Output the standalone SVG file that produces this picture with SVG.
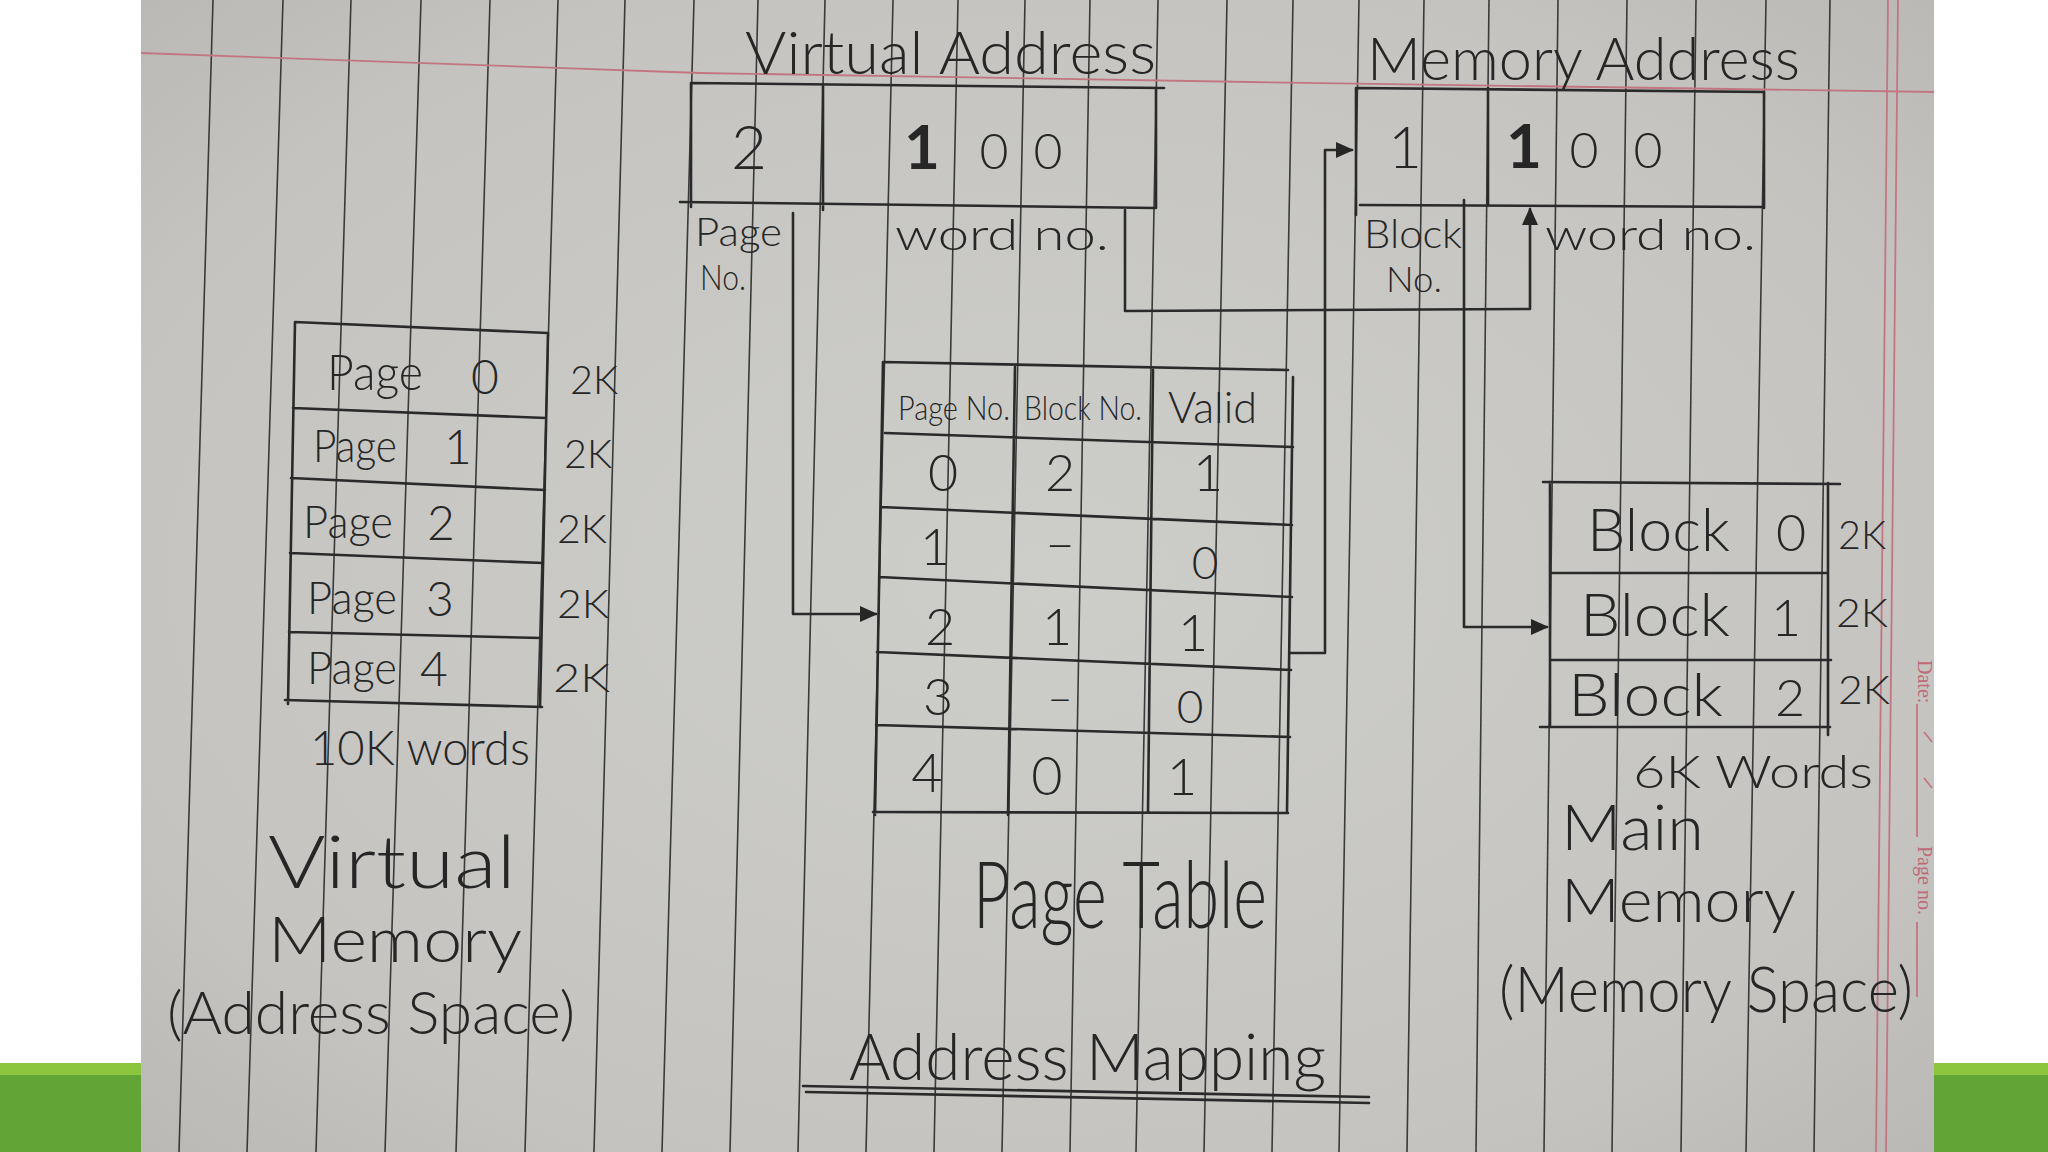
<svg xmlns="http://www.w3.org/2000/svg" width="2048" height="1152" viewBox="0 0 2048 1152">
<defs>
<radialGradient id="paper" cx="0.5" cy="0.5" r="0.75">
<stop offset="0" stop-color="#cdcdca"/>
<stop offset="0.7" stop-color="#c5c4c1"/>
<stop offset="1" stop-color="#b7b6b3"/>
</radialGradient>
<clipPath id="pg"><rect x="141" y="0" width="1793" height="1152"/></clipPath>
<marker id="ah" viewBox="0 0 10 10" refX="9" refY="5" markerWidth="7" markerHeight="7" orient="auto" markerUnits="strokeWidth">
<path d="M0,0.5 L10,5 L0,9.5 Z" fill="#262626"/>
</marker>
<style>
.rule{stroke:#3a3a3a;stroke-width:1.6;fill:none}
.red{stroke:#c27682;stroke-width:1.8;fill:none}
.ink{stroke:#2a2a2a;stroke-width:2.6;fill:none;stroke-linecap:round;stroke-linejoin:round}
.hw{font-family:Lato,"Open Sans","DejaVu Sans",sans-serif;font-weight:300;fill:#262626}
.mid{text-anchor:middle}
.bold{font-weight:700}
.pr{font-family:"Liberation Serif",serif;fill:#c06a78;font-size:20px}
</style>
</defs>
<rect x="0" y="0" width="2048" height="1152" fill="#ffffff"/>
<rect x="0" y="1063" width="141" height="12" fill="#8cc63f"/>
<rect x="0" y="1075" width="141" height="77" fill="#63a437"/>
<rect x="1934" y="1063" width="114" height="12" fill="#8cc63f"/>
<rect x="1934" y="1075" width="114" height="77" fill="#63a437"/>
<g id="paper-sheet" clip-path="url(#pg)">
<rect x="141" y="0" width="1793" height="1152" fill="url(#paper)"/>
<g id="ruling">
<line class="rule" x1="213" y1="0" x2="179" y2="1152"/>
<line class="rule" x1="283" y1="0" x2="247" y2="1152"/>
<line class="rule" x1="351" y1="0" x2="316" y2="1152"/>
<line class="rule" x1="421" y1="0" x2="385" y2="1152"/>
<line class="rule" x1="490" y1="0" x2="456" y2="1152"/>
<line class="rule" x1="558" y1="0" x2="525" y2="1152"/>
<line class="rule" x1="625" y1="0" x2="594" y2="1152"/>
<line class="rule" x1="694" y1="0" x2="662" y2="1152"/>
<line class="rule" x1="758" y1="0" x2="730" y2="1152"/>
<line class="rule" x1="825" y1="0" x2="798" y2="1152"/>
<line class="rule" x1="893" y1="0" x2="866" y2="1152"/>
<line class="rule" x1="958" y1="0" x2="934" y2="1152"/>
<line class="rule" x1="1025" y1="0" x2="1002" y2="1152"/>
<line class="rule" x1="1090" y1="0" x2="1070" y2="1152"/>
<line class="rule" x1="1158" y1="0" x2="1136" y2="1152"/>
<line class="rule" x1="1227" y1="0" x2="1204" y2="1152"/>
<line class="rule" x1="1293" y1="0" x2="1272" y2="1152"/>
<line class="rule" x1="1359" y1="0" x2="1339" y2="1152"/>
<line class="rule" x1="1424" y1="0" x2="1407" y2="1152"/>
<line class="rule" x1="1489" y1="0" x2="1476" y2="1152"/>
<line class="rule" x1="1558" y1="0" x2="1544" y2="1152"/>
<line class="rule" x1="1627" y1="0" x2="1612" y2="1152"/>
<line class="rule" x1="1696" y1="0" x2="1681" y2="1152"/>
<line class="rule" x1="1766" y1="0" x2="1746" y2="1152"/>
<line class="rule" x1="1830" y1="0" x2="1814" y2="1152"/>
<path class="red" d="M141,53 L700,73 L1250,82 L1934,92"/>
<line class="red" x1="1888" y1="0" x2="1876" y2="1152"/>
<line class="red" x1="1898" y1="0" x2="1886" y2="1152"/>
<text class="pr" transform="translate(1918,660) rotate(90)">Date:</text>
<line class="red" x1="1917" y1="704" x2="1917" y2="837"/>
<line class="red" x1="1924" y1="732" x2="1932" y2="742"/>
<line class="red" x1="1924" y1="778" x2="1932" y2="788"/>
<text class="pr" transform="translate(1918,846) rotate(90)">Page no.</text>
<line class="red" x1="1917" y1="922" x2="1917" y2="997"/>
</g>

<g id="virtual-address">
<text class="hw" x="745" y="74" font-size="60" textLength="411" lengthAdjust="spacingAndGlyphs">Virtual Address</text>
<path class="ink" d="M691,83 L1164,88 M691,83 L691,207 M680,202 L1156,208 M1156,88 L1156,208 M823,85 L823,210"/>
<text class="hw mid" x="749" y="169" font-size="62">2</text>
<text class="hw mid bold" x="922" y="169" font-size="62">1</text>
<text class="hw mid" x="994" y="169" font-size="50">0</text>
<text class="hw mid" x="1048" y="169" font-size="50">0</text>
<text class="hw" x="695" y="246" font-size="40" textLength="87" lengthAdjust="spacingAndGlyphs">Page</text>
<text class="hw" x="700" y="290" font-size="36" textLength="46" lengthAdjust="spacingAndGlyphs">No.</text>
<text class="hw" x="895" y="250" font-size="44" textLength="214" lengthAdjust="spacingAndGlyphs">word no.</text>
</g>

<g id="memory-address">
<text class="hw" x="1367" y="80" font-size="60" textLength="433" lengthAdjust="spacingAndGlyphs">Memory Address</text>
<path class="ink" d="M1356,88 L1764,92 M1356,88 L1356,215 M1360,205 L1764,207 M1764,92 L1764,208 M1488,88 L1488,206"/>
<text class="hw mid" x="1405" y="168" font-size="58">1</text>
<text class="hw mid bold" x="1524" y="168" font-size="62">1</text>
<text class="hw mid" x="1584" y="168" font-size="50">0</text>
<text class="hw mid" x="1648" y="168" font-size="50">0</text>
<text class="hw" x="1364" y="248" font-size="40" textLength="98" lengthAdjust="spacingAndGlyphs">Block</text>
<text class="hw" x="1386" y="292" font-size="36" textLength="56" lengthAdjust="spacingAndGlyphs">No.</text>
<text class="hw" x="1545" y="250" font-size="44" textLength="211" lengthAdjust="spacingAndGlyphs">word no.</text>
</g>

<g id="virtual-memory">
<path class="ink" d="M295,322 L548,333 M295,322 L288,704 M548,333 L540,707 M293,408 L546,418 M291,478 L545,490 M290,553 L543,563 M289,632 L541,638 M285,700 L542,707"/>
<text class="hw" x="327" y="390" font-size="50" textLength="96" lengthAdjust="spacingAndGlyphs">Page</text>
<text class="hw mid" x="485" y="394" font-size="48">0</text>
<text class="hw" x="313" y="462" font-size="46" textLength="84" lengthAdjust="spacingAndGlyphs">Page</text>
<text class="hw mid" x="458" y="464" font-size="48">1</text>
<text class="hw" x="303" y="538" font-size="46" textLength="90" lengthAdjust="spacingAndGlyphs">Page</text>
<text class="hw mid" x="441" y="540" font-size="48">2</text>
<text class="hw" x="307" y="614" font-size="46" textLength="90" lengthAdjust="spacingAndGlyphs">Page</text>
<text class="hw mid" x="440" y="616" font-size="48">3</text>
<text class="hw" x="307" y="684" font-size="46" textLength="90" lengthAdjust="spacingAndGlyphs">Page</text>
<text class="hw mid" x="434" y="686" font-size="48">4</text>
<text class="hw" x="570" y="394" font-size="40" textLength="48" lengthAdjust="spacingAndGlyphs">2K</text>
<text class="hw" x="564" y="468" font-size="40" textLength="48" lengthAdjust="spacingAndGlyphs">2K</text>
<text class="hw" x="557" y="543" font-size="40" textLength="50" lengthAdjust="spacingAndGlyphs">2K</text>
<text class="hw" x="557" y="618" font-size="40" textLength="52" lengthAdjust="spacingAndGlyphs">2K</text>
<text class="hw" x="553" y="692" font-size="40" textLength="57" lengthAdjust="spacingAndGlyphs">2K</text>
<text class="hw" x="310" y="765" font-size="48" textLength="220" lengthAdjust="spacingAndGlyphs">10K words</text>
<text class="hw" x="268" y="888" font-size="72" textLength="248" lengthAdjust="spacingAndGlyphs">Virtual</text>
<text class="hw" x="268" y="962" font-size="64" textLength="254" lengthAdjust="spacingAndGlyphs">Memory</text>
<text class="hw" x="167" y="1034" font-size="60" textLength="408" lengthAdjust="spacingAndGlyphs">(Address Space)</text>
</g>

<g id="page-table">
<path class="ink" d="M883,362 L1288,370 M883,362 L875,815 M1293,377 L1287,812 M885,433 L1293,447 M881,507 L1292,525 M879,577 L1292,597 M877,652 L1291,670 M876,725 L1290,737 M873,812 L1288,813 M1015,367 L1008,815 M1153,370 L1148,812"/>
<text class="hw" x="898" y="420" font-size="34" textLength="112" lengthAdjust="spacingAndGlyphs">Page No.</text>
<text class="hw" x="1024" y="420" font-size="34" textLength="118" lengthAdjust="spacingAndGlyphs">Block No.</text>
<text class="hw" x="1168" y="423" font-size="44" textLength="89" lengthAdjust="spacingAndGlyphs">Valid</text>
<text class="hw mid" x="943" y="491" font-size="52">0</text>
<text class="hw mid" x="1060" y="491" font-size="52">2</text>
<text class="hw mid" x="1208" y="491" font-size="52">1</text>
<text class="hw mid" x="935" y="565" font-size="52">1</text>
<text class="hw mid" x="1060" y="561" font-size="52">–</text>
<text class="hw mid" x="1205" y="579" font-size="46">0</text>
<text class="hw mid" x="940" y="645" font-size="52">2</text>
<text class="hw mid" x="1057" y="645" font-size="52">1</text>
<text class="hw mid" x="1193" y="651" font-size="52">1</text>
<text class="hw mid" x="938" y="715" font-size="52">3</text>
<text class="hw mid" x="1060" y="713" font-size="44">–</text>
<text class="hw mid" x="1190" y="723" font-size="46">0</text>
<text class="hw mid" x="927" y="792" font-size="54">4</text>
<text class="hw mid" x="1047" y="795" font-size="54">0</text>
<text class="hw mid" x="1182" y="795" font-size="52">1</text>
<text class="hw" x="973" y="928" font-size="92" textLength="294" lengthAdjust="spacingAndGlyphs">Page Table</text>
</g>

<g id="main-memory">
<path class="ink" d="M1543,482 L1840,484 M1550,482 L1550,727 M1828,483 L1828,735 M1550,573 L1828,573 M1550,660 L1831,660 M1540,727 L1830,727"/>
<text class="hw" x="1587" y="551" font-size="60" textLength="143" lengthAdjust="spacingAndGlyphs">Block</text>
<text class="hw mid" x="1791" y="551" font-size="52">0</text>
<text class="hw" x="1838" y="549" font-size="40" textLength="48" lengthAdjust="spacingAndGlyphs">2K</text>
<text class="hw" x="1580" y="636" font-size="60" textLength="150" lengthAdjust="spacingAndGlyphs">Block</text>
<text class="hw mid" x="1786" y="636" font-size="52">1</text>
<text class="hw" x="1836" y="627" font-size="40" textLength="52" lengthAdjust="spacingAndGlyphs">2K</text>
<text class="hw" x="1568" y="716" font-size="60" textLength="155" lengthAdjust="spacingAndGlyphs">Block</text>
<text class="hw mid" x="1790" y="716" font-size="52">2</text>
<text class="hw" x="1838" y="704" font-size="40" textLength="52" lengthAdjust="spacingAndGlyphs">2K</text>
<text class="hw" x="1633" y="788" font-size="46" textLength="240" lengthAdjust="spacingAndGlyphs">6K Words</text>
<text class="hw" x="1561" y="850" font-size="64" textLength="143" lengthAdjust="spacingAndGlyphs">Main</text>
<text class="hw" x="1561" y="922" font-size="62" textLength="235" lengthAdjust="spacingAndGlyphs">Memory</text>
<text class="hw" x="1499" y="1012" font-size="64" textLength="414" lengthAdjust="spacingAndGlyphs">(Memory Space)</text>
</g>

<g id="caption">
<text class="hw" x="849" y="1080" font-size="66" textLength="477" lengthAdjust="spacingAndGlyphs">Address Mapping</text>
<path class="ink" d="M803,1086 L1369,1097 M806,1092 L1369,1103"/>
</g>

<g id="connectors">
<path class="ink" marker-end="url(#ah)" d="M793,213 L793,614 L876,614"/>
<path class="ink" marker-end="url(#ah)" d="M1290,653 L1325,653 L1325,150 L1352,150"/>
<path class="ink" marker-end="url(#ah)" d="M1125,210 L1125,311 L1530,309 L1530,209"/>
<path class="ink" marker-end="url(#ah)" d="M1464,200 L1464,627 L1547,627"/>
</g>
</g>
</svg>
